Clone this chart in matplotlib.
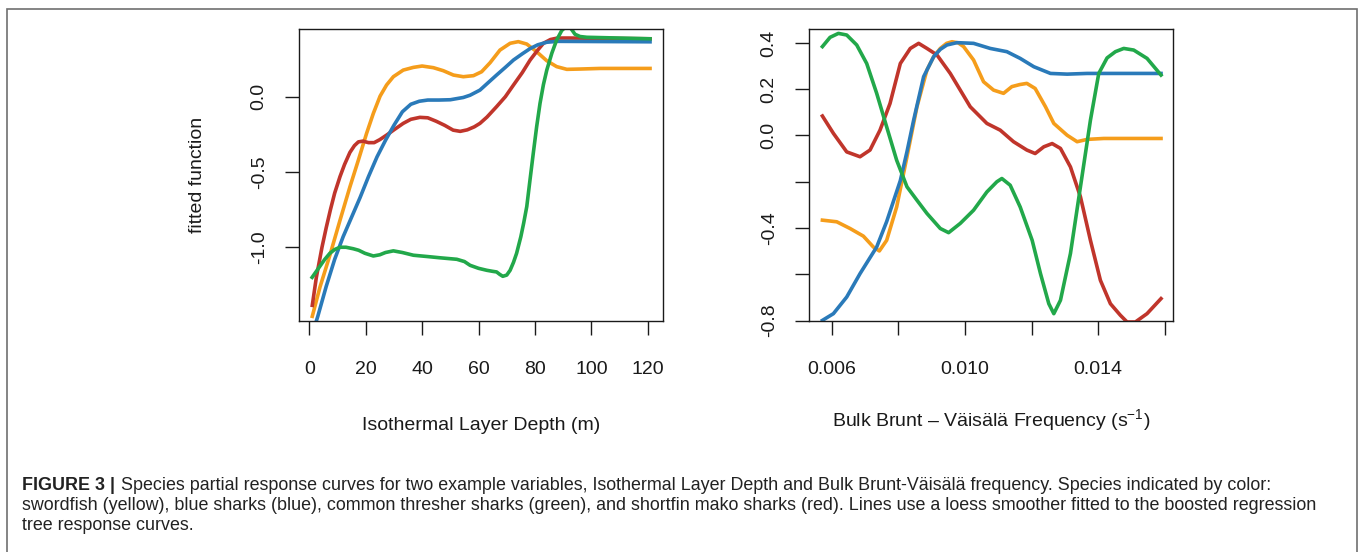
"""
partial response curves for two example variables (ILD and Brunt-Vaisala)
"""

import matplotlib.pyplot as plt
from matplotlib.patches import Rectangle

plt.rcParams['font.family'] = ['Liberation Sans', 'DejaVu Sans']
plt.rcParams['axes.unicode_minus'] = False
plt.rcParams['mathtext.fontset'] = 'custom'
plt.rcParams['mathtext.rm'] = 'Liberation Sans'
plt.rcParams['mathtext.it'] = 'Liberation Sans:italic'
plt.rcParams['mathtext.bf'] = 'Liberation Sans:bold'

# ---- Isothermal Layer Depth (m)
ild_swordfish_x = [1.06, 3.8, 7.3, 10.9, 14.4, 17.4, 20.3, 22.7, 25.1, 27.4, 29.8, 33.3, 36.9, 40.0,
                   44.0, 47.5, 51.1, 54.6, 58.2, 61.1, 64.1, 67.6, 71.2, 74.1, 77.1, 80.6, 84.2,
                   87.7, 91.3, 96.0, 103.1, 120.8]
ild_swordfish_y = [-1.459, -1.264, -1.053, -0.820, -0.599, -0.421, -0.244, -0.111, 0.004, 0.078,
                   0.133, 0.177, 0.195, 0.204, 0.193, 0.173, 0.144, 0.133, 0.140, 0.166, 0.226,
                   0.310, 0.355, 0.366, 0.350, 0.299, 0.239, 0.200, 0.182, 0.184, 0.188, 0.188]

ild_blue_x = [1.0, 3.0, 6.0, 9.0, 12.0, 15.0, 18.0, 21.0, 24.0, 27.0, 30.0, 33.0, 36.0, 39.0, 42.0,
              46.0, 50.0, 54.6, 57.0, 60.5, 63.5, 66.4, 69.5, 72.4, 75.5, 78.3, 81.0, 84.2, 88.0,
              120.8]
ild_blue_y = [-1.58, -1.46, -1.26, -1.08, -0.93, -0.80, -0.67, -0.53, -0.40, -0.29, -0.19, -0.10,
              -0.05, -0.03, -0.022, -0.022, -0.02, -0.005, 0.01, 0.044, 0.095, 0.144, 0.195, 0.244,
              0.285, 0.32, 0.345, 0.362, 0.368, 0.365]

ild_thresher_x = [1.0, 2.5, 4.0, 5.5, 7.3, 9.0, 10.9, 13.0, 15.6, 17.5, 19.7, 22.7, 25.0, 27.0, 29.8,
                  33.0, 36.9, 42.0, 46.3, 52.3, 55.0, 57.0, 60.0, 62.9, 65.0, 66.4, 67.5, 68.6, 70.0,
                  71.2, 72.4, 73.5, 75.0, 76.0, 77.1, 78.2, 79.4, 80.6, 81.8, 83.0, 84.2, 86.0, 87.7,
                  89.5, 91.3, 92.7, 94.2, 96.0, 98.4, 120.8]
ild_thresher_y = [-1.20, -1.16, -1.12, -1.08, -1.04, -1.015, -1.0, -1.0, -1.01, -1.02, -1.04, -1.058,
                  -1.05, -1.035, -1.024, -1.035, -1.053, -1.062, -1.07, -1.08, -1.095, -1.12, -1.14,
                  -1.153, -1.16, -1.164, -1.18, -1.193, -1.185, -1.153, -1.10, -1.04, -0.93, -0.84,
                  -0.73, -0.56, -0.377, -0.20, -0.044, 0.08, 0.177, 0.29, 0.377, 0.44, 0.47, 0.455,
                  0.415, 0.40, 0.395, 0.385]

ild_mako_x = [1.06, 2.5, 4.5, 6.0, 7.5, 9.0, 10.9, 12.5, 14.4, 16.0, 17.4, 19.0, 21.0, 23.0, 25.0,
              27.4, 30.0, 33.3, 36.0, 39.2, 42.0, 45.0, 48.0, 51.0, 53.5, 56.0, 58.5, 60.5, 63.0,
              66.4, 69.5, 72.4, 75.5, 78.3, 81.0, 83.0, 85.5, 88.0, 92.0, 120.8]
ild_mako_y = [-1.386, -1.20, -1.0, -0.87, -0.75, -0.64, -0.53, -0.45, -0.37, -0.325, -0.30, -0.295,
              -0.305, -0.305, -0.285, -0.255, -0.22, -0.177, -0.15, -0.137, -0.14, -0.163, -0.19,
              -0.222, -0.23, -0.22, -0.20, -0.177, -0.135, -0.066, 0.0, 0.078, 0.16, 0.244, 0.31,
              0.355, 0.38, 0.39, 0.39, 0.385]

# ---- Bulk Brunt-Vaisala frequency (1/s)
bv_swordfish_x = [.00572, .00615, .00655, .00695, .00725, .00743, .00765, .00795, .00826, .00856,
                  .00886, .00906, .00926, .00945, .00961, .00980, .00996, .01026, .01056, .01086,
                  .01116, .01141, .01165, .01186, .01211, .01242, .01267, .01307, .01337, .01367,
                  .01417, .01589]
bv_swordfish_y = [-0.366, -0.373, -0.402, -0.435, -0.482, -0.499, -0.453, -0.309, -0.092, 0.124,
                  0.283, 0.340, 0.376, 0.398, 0.405, 0.400, 0.384, 0.326, 0.232, 0.196, 0.182,
                  0.211, 0.220, 0.225, 0.203, 0.124, 0.052, 0.001, -0.027, -0.017, -0.013, -0.013]

bv_blue_x = [.00572, .00605, .00645, .00685, .00735, .00765, .00806, .00826, .00846, .00876, .00906,
             .00926, .00946, .00976, .01026, .01076, .01126, .01166, .01207, .01257, .01307, .01367,
             .01589]
bv_blue_y = [-0.799, -0.77, -0.698, -0.597, -0.482, -0.372, -0.195, -0.07, 0.066, 0.254, 0.34,
             0.372, 0.391, 0.401, 0.398, 0.376, 0.362, 0.333, 0.297, 0.268, 0.265, 0.268, 0.268]

bv_thresher_x = [.00572, .00595, .0062, .00645, .00675, .00705, .00735, .00765, .00795, .00826,
                 .00856, .00886, .00926, .00951, .00986, .01026, .01066, .01096, .01111, .01136,
                 .01166, .01202, .01227, .01252, .01267, .01287, .01317, .01347, .01377, .01402,
                 .01427, .01452, .01477, .01507, .01547, .01589]
bv_thresher_y = [0.384, 0.424, 0.441, 0.434, 0.391, 0.311, 0.182, 0.037, -0.107, -0.222, -0.28,
                 -0.337, -0.402, -0.42, -0.38, -0.323, -0.244, -0.20, -0.186, -0.215, -0.309,
                 -0.453, -0.597, -0.727, -0.77, -0.712, -0.51, -0.222, 0.066, 0.268, 0.335, 0.362,
                 0.376, 0.369, 0.333, 0.261]

bv_mako_x = [.00572, .00605, .00645, .00685, .00715, .00745, .00775, .00806, .00836, .00861, .00886,
             .00916, .00956, .00986, .01016, .01066, .01106, .01146, .01186, .01211, .01237, .01262,
             .01287, .01317, .01347, .01377, .01407, .01437, .01467, .01487, .01512, .01547, .01589]
bv_mako_y = [0.084, 0.009, -0.071, -0.092, -0.063, 0.023, 0.138, 0.311, 0.376, 0.398, 0.376, 0.348,
             0.268, 0.196, 0.124, 0.052, 0.023, -0.027, -0.063, -0.078, -0.049, -0.035, -0.056,
             -0.136, -0.265, -0.453, -0.626, -0.727, -0.777, -0.806, -0.806, -0.77, -0.705]

ild_xticks = [0, 20, 40, 60, 80, 100, 120]
ild_yticks = [-1.0, -0.5, 0.0]
ild_ylabels = ['-1.0', '-0.5', '0.0']
bv_xticks = [0.006, 0.008, 0.010, 0.012, 0.014, 0.016]
bv_xlabels = ['0.006', '', '0.010', '', '0.014', '']
bv_yticks = [-0.8, -0.6, -0.4, -0.2, 0.0, 0.2, 0.4]
bv_ylabels = ['-0.8', '', '-0.4', '', '0.0', '0.2', '0.4']

col_sword = '#F59D1B'
col_blue = '#2A7AB9'
col_thresh = '#22A84A'
col_mako = '#C0352B'

W, H = 1363, 552
fig = plt.figure(figsize=(W / 100, H / 100), dpi=100)


def px_axes(x0, y0, x1, y1):
    return fig.add_axes([x0 / W, 1 - y1 / H, (x1 - x0) / W, (y1 - y0) / H])


ax1 = px_axes(299, 29, 663, 321)
ax2 = px_axes(809, 29, 1173, 321)

lw = 2.6
ax1.plot(ild_swordfish_x, ild_swordfish_y, color=col_sword, lw=lw)
ax1.plot(ild_mako_x, ild_mako_y, color=col_mako, lw=lw)
ax1.plot(ild_blue_x, ild_blue_y, color=col_blue, lw=lw)
ax1.plot(ild_thresher_x, ild_thresher_y, color=col_thresh, lw=lw)

ax2.plot(bv_swordfish_x, bv_swordfish_y, color=col_sword, lw=lw)
ax2.plot(bv_mako_x, bv_mako_y, color=col_mako, lw=lw)
ax2.plot(bv_blue_x, bv_blue_y, color=col_blue, lw=lw)
ax2.plot(bv_thresher_x, bv_thresher_y, color=col_thresh, lw=lw)

ax1.set_xlim(-3.65, 125.4)
ax1.set_ylim(-1.49, 0.45)
ax2.set_xlim(0.005317, 0.01625)
ax2.set_ylim(-0.8017, 0.46)

ax1.set_xticks(ild_xticks, labels=[str(t) for t in ild_xticks])
ax1.set_yticks(ild_yticks, labels=ild_ylabels)
ax2.set_xticks(bv_xticks, labels=bv_xlabels)
ax2.set_yticks(bv_yticks, labels=bv_ylabels)

for ax in (ax1, ax2):
    ax.tick_params(direction='out', length=10, width=1.0, labelsize=14, colors='#1a1a1a')
    ax.tick_params(axis='x', pad=18.5)
    ax.tick_params(axis='y', pad=12.5, labelrotation=90)
    plt.setp(ax.get_yticklabels(), va='center')
    for s in ax.spines.values():
        s.set_linewidth(1.0)
        s.set_color('#1a1a1a')

ax1.set_xlabel('Isothermal Layer Depth (m)', fontsize=14, color='#1a1a1a')
ax1.xaxis.label.set_va('center')
ax1.xaxis.set_label_coords(0.5, -(425 - 321) / 292)
ax1.set_ylabel('fitted function', fontsize=14, color='#1a1a1a')
ax1.yaxis.label.set_va('center')
ax1.yaxis.set_label_coords((198 - 299) / 364, 0.5)

ax2.set_xlabel(r'Bulk Brunt – Väisälä Frequency (s$^{-1}$)', fontsize=14, color='#1a1a1a')
ax2.xaxis.label.set_va('center')
ax2.xaxis.set_label_coords(0.5, -(420 - 321) / 292)

# frame round the figure + caption
fig.add_artist(Rectangle((7 / W, -0.05), (1357 - 7) / W, 1.05 - 9 / H, transform=fig.transFigure,
                         fill=False, edgecolor='#707070', lw=1.2, clip_on=False))

cap_x = 22 / W
cap_size = 12.9
cap_col = '#222222'
renderer = fig.canvas.get_renderer()
t = fig.text(cap_x, 1 - 490 / H, 'FIGURE 3 |', fontsize=cap_size, fontweight='bold',
             color=cap_col, va='baseline')
bb = t.get_window_extent(renderer=renderer)
fig.text(bb.x1 / W + 6 / W, 1 - 490 / H,
         'Species partial response curves for two example variables, Isothermal Layer Depth '
         'and Bulk Brunt-Väisälä frequency. Species indicated by color:',
         fontsize=cap_size, color=cap_col, va='baseline')
fig.text(cap_x, 1 - 510 / H,
         'swordfish (yellow), blue sharks (blue), common thresher sharks (green), and shortfin '
         'mako sharks (red). Lines use a loess smoother fitted to the boosted regression',
         fontsize=cap_size, color=cap_col, va='baseline')
fig.text(cap_x, 1 - 530 / H, 'tree response curves.', fontsize=cap_size, color=cap_col,
         va='baseline')

fig.savefig('out.png', dpi=100)
plt.close(fig)
